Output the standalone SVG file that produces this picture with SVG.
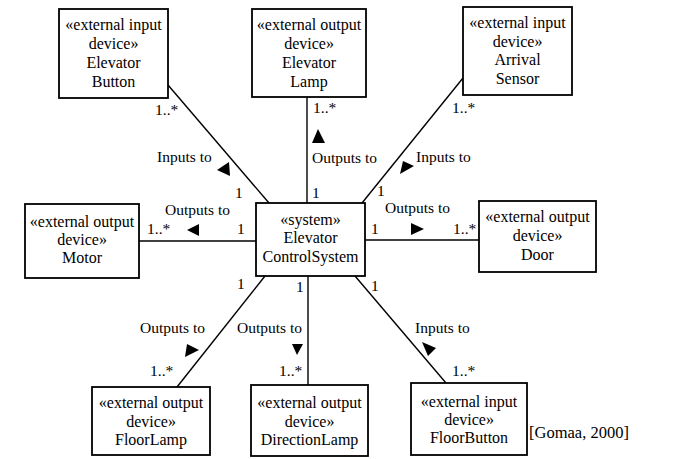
<svg xmlns="http://www.w3.org/2000/svg" width="700" height="459" viewBox="0 0 700 459" font-family="'Liberation Serif', 'Times New Roman', 'DejaVu Serif', serif">
<style>
.box{fill:#fff;stroke:#000;stroke-width:1.8}
.ln{stroke:#000;stroke-width:1.4;fill:none}
.t{font-size:16px;text-anchor:middle;fill:#000}
.l{font-size:15.5px;fill:#000}
.tri{fill:#000}
</style>
<rect width="700" height="459" fill="#fff"/>
<g id="connectors">
<line class="ln" x1="168" y1="85" x2="269" y2="203"/>
<line class="ln" x1="307" y1="97" x2="307" y2="203"/>
<line class="ln" x1="463" y1="78" x2="362" y2="203"/>
<line class="ln" x1="139" y1="241" x2="256" y2="241"/>
<line class="ln" x1="365" y1="240" x2="479" y2="240"/>
<line class="ln" x1="177" y1="387" x2="265" y2="276"/>
<line class="ln" x1="308" y1="276" x2="308" y2="385"/>
<line class="ln" x1="355" y1="276" x2="446" y2="383"/>
<polygon class="tri" points="229,162 217,170 230,176"/>
<polygon class="tri" points="318,129 312,143 325,143"/>
<polygon class="tri" points="403,161 414,166 400,174"/>
<polygon class="tri" points="187,230 199,224 199,236"/>
<polygon class="tri" points="424,229 411,223 411,235"/>
<polygon class="tri" points="187,344 199,350 185,357"/>
<polygon class="tri" points="292,344 303,344 297,355"/>
<polygon class="tri" points="422,342 436,348 428,356"/>
<text class="l" x="155" y="115">1..*</text>
<text class="l" x="157" y="162">Inputs to</text>
<text class="l" x="235" y="198">1</text>
<text class="l" x="313" y="113">1..*</text>
<text class="l" x="312" y="163">Outputs to</text>
<text class="l" x="312" y="198">1</text>
<text class="l" x="452" y="113">1..*</text>
<text class="l" x="416" y="162">Inputs to</text>
<text class="l" x="377" y="196">1</text>
<text class="l" x="165" y="215">Outputs to</text>
<text class="l" x="147" y="234">1..*</text>
<text class="l" x="237" y="234">1</text>
<text class="l" x="385" y="213">Outputs to</text>
<text class="l" x="371" y="234">1</text>
<text class="l" x="453" y="234">1..*</text>
<text class="l" x="237" y="289">1</text>
<text class="l" x="296" y="292">1</text>
<text class="l" x="371" y="291">1</text>
<text class="l" x="140" y="333">Outputs to</text>
<text class="l" x="150" y="376">1..*</text>
<text class="l" x="237" y="333">Outputs to</text>
<text class="l" x="279" y="376">1..*</text>
<text class="l" x="415" y="333">Inputs to</text>
<text class="l" x="452" y="376">1..*</text>
</g>
<g id="elevatorButton">
<rect class="box" x="59" y="9" width="109" height="89"/>
<text class="t" x="113.5" y="30">«external input</text>
<text class="t" x="113.5" y="49">device»</text>
<text class="t" x="113.5" y="68">Elevator</text>
<text class="t" x="113.5" y="87">Button</text>
</g>
<g id="elevatorLamp">
<rect class="box" x="252" y="9" width="114" height="88"/>
<text class="t" x="309" y="30">«external output</text>
<text class="t" x="309" y="49">device»</text>
<text class="t" x="309" y="68">Elevator</text>
<text class="t" x="309" y="87">Lamp</text>
</g>
<g id="arrivalSensor">
<rect class="box" x="463" y="7" width="109" height="88"/>
<text class="t" x="517.5" y="28">«external input</text>
<text class="t" x="517.5" y="47">device»</text>
<text class="t" x="517.5" y="65">Arrival</text>
<text class="t" x="517.5" y="84">Sensor</text>
</g>
<g id="motor">
<rect class="box" x="25" y="204" width="114" height="74"/>
<text class="t" x="82" y="227">«external output</text>
<text class="t" x="82" y="245">device»</text>
<text class="t" x="82" y="263">Motor</text>
</g>
<g id="system">
<rect class="box" x="256" y="203" width="109" height="73"/>
<text class="t" x="310.5" y="225">«system»</text>
<text class="t" x="310.5" y="243">Elevator</text>
<text class="t" x="310.5" y="262">ControlSystem</text>
</g>
<g id="door">
<rect class="box" x="479" y="201" width="117" height="71"/>
<text class="t" x="537.5" y="222">«external output</text>
<text class="t" x="537.5" y="241">device»</text>
<text class="t" x="537.5" y="260">Door</text>
</g>
<g id="floorLamp">
<rect class="box" x="92" y="387" width="118" height="68"/>
<text class="t" x="151" y="408">«external output</text>
<text class="t" x="151" y="427">device»</text>
<text class="t" x="151" y="445">FloorLamp</text>
</g>
<g id="directionLamp">
<rect class="box" x="251" y="385" width="117" height="71"/>
<text class="t" x="309.5" y="408">«external output</text>
<text class="t" x="309.5" y="427">device»</text>
<text class="t" x="309.5" y="445">DirectionLamp</text>
</g>
<g id="floorButton">
<rect class="box" x="411" y="383" width="116" height="72"/>
<text class="t" x="469" y="407">«external input</text>
<text class="t" x="469" y="425">device»</text>
<text class="t" x="469" y="443">FloorButton</text>
</g>
<text x="529" y="438" font-size="16.5" fill="#000">[Gomaa, 2000]</text>
</svg>
